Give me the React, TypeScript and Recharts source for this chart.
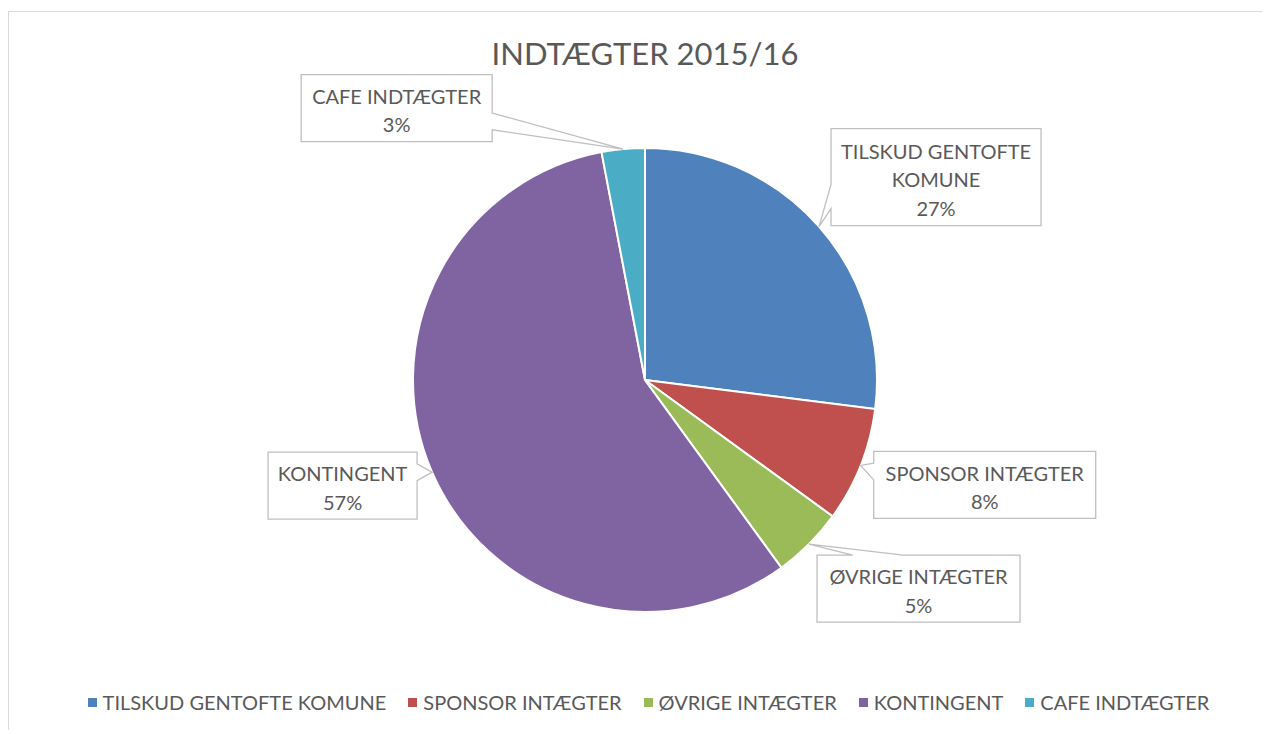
import { PieChart, Pie, Cell, Legend } from "recharts";

const categories = [
  "TILSKUD GENTOFTE KOMUNE",
  "SPONSOR INTÆGTER",
  "ØVRIGE INTÆGTER",
  "KONTINGENT",
  "CAFE INDTÆGTER",
];
const shares = [27, 8, 5, 57, 3];
const colors = ["#4F81BD", "#C0504D", "#9BBB59", "#8064A2", "#4BACC6"];
const title = "INDTÆGTER 2015/16";

// callout box placement relative to the slice's outer edge point
const callouts = [
  { dx: 117, dy: -49.5, w: 210, h: 97, wrap: 2 },
  { dx: 124, dy: 19.5, w: 222, h: 67, wrap: 0 },
  { dx: 109.5, dy: 44.5, w: 203, h: 67, wrap: 0 },
  { dx: -89.5, dy: 13.5, w: 149, h: 67, wrap: 0 },
  { dx: -226.5, dy: -41, w: 191, h: 67, wrap: 0 },
];

const data = categories.map((name, i) => ({ name, value: shares[i] }));

const FONT = "Lato, 'Open Sans', sans-serif";
const TEXT = "#595959";
const RADIAN = Math.PI / 180;

function calloutPath(x0: number, y0: number, w: number, h: number, ax: number, ay: number) {
  const x1 = x0 + w;
  const y1 = y0 + h;
  const cx = x0 + w / 2;
  const cy = y0 + h / 2;
  const rx = Math.abs(ax - cx) / (w / 2);
  const ry = Math.abs(ay - cy) / (h / 2);
  const clamp = (v: number, a: number, b: number) => Math.max(a, Math.min(b, v));
  if (rx > ry) {
    const c = clamp(ay, y0 + 0.3 * h, y1 - 0.3 * h);
    const hw = 0.125 * h;
    if (ax > cx) {
      return `M${x0},${y0} L${x1},${y0} L${x1},${c - hw} L${ax},${ay} L${x1},${c + hw} L${x1},${y1} L${x0},${y1} Z`;
    }
    return `M${x0},${y0} L${x1},${y0} L${x1},${y1} L${x0},${y1} L${x0},${c + hw} L${ax},${ay} L${x0},${c - hw} Z`;
  }
  const c = clamp(ax, x0 + 0.3 * w, x1 - 0.3 * w);
  const hw = 0.125 * w;
  if (ay < cy) {
    return `M${x0},${y0} L${c - hw},${y0} L${ax},${ay} L${c + hw},${y0} L${x1},${y0} L${x1},${y1} L${x0},${y1} Z`;
  }
  return `M${x0},${y0} L${x1},${y0} L${x1},${y1} L${c + hw},${y1} L${ax},${ay} L${c - hw},${y1} L${x0},${y1} Z`;
}

function renderLabel(props: any) {
  const { cx, cy, midAngle, outerRadius, percent, index, name } = props;
  const ax = cx + Math.cos(-midAngle * RADIAN) * outerRadius;
  const ay = cy + Math.sin(-midAngle * RADIAN) * outerRadius;
  const c = callouts[index];
  const bx = ax + c.dx;
  const by = ay + c.dy;
  const words = String(name).split(" ");
  const lines =
    c.wrap > 0
      ? [words.slice(0, c.wrap).join(" "), words.slice(c.wrap).join(" ")]
      : [String(name)];
  lines.push(`${Math.round(percent * 100)}%`);
  const lh = 28.5;
  const startY = by + 2 - ((lines.length - 1) * lh) / 2;
  return (
    <g key={`lbl-${index}`}>
      <path
        d={calloutPath(bx - c.w / 2, by - c.h / 2, c.w, c.h, ax, ay)}
        fill="#fff"
        stroke="#bfbfbf"
        strokeWidth={1.3}
      />
      {lines.map((t, i) => (
        <text
          key={i}
          x={bx}
          y={startY + i * lh}
          textAnchor="middle"
          dominantBaseline="central"
          fill={TEXT}
          fontSize={20}
          fontFamily={FONT}
        >
          {t}
        </text>
      ))}
    </g>
  );
}

function renderLegend() {
  return (
    <div
      style={{
        display: "flex",
        justifyContent: "center",
        alignItems: "center",
        fontFamily: FONT,
        fontSize: 20,
        color: TEXT,
        paddingLeft: 41,
      }}
    >
      {categories.map((name, i) => (
        <div key={name} style={{ display: "flex", alignItems: "center", marginRight: 22 }}>
          <span
            style={{ width: 9, height: 9, background: colors[i], marginRight: 6, display: "inline-block" }}
          />
          <span>{name}</span>
        </div>
      ))}
    </div>
  );
}

export default function App() {
  return (
    <div
      style={{
        position: "relative",
        top: 3,
        width: 1262,
        height: 722,
        border: "1px solid #d9d9d9",
        borderBottom: "none",
        boxSizing: "border-box",
        background: "#fff",
      }}
    >
      <div
        style={{
          position: "absolute",
          left: 336,
          width: 600,
          top: 22,
          textAlign: "center",
          fontFamily: FONT,
          fontSize: 31,
          color: TEXT,
        }}
      >
        {title}
      </div>
      <PieChart width={1260} height={720}>
        <Pie
          data={data}
          dataKey="value"
          nameKey="name"
          cx={631}
          cy={363}
          outerRadius={232}
          startAngle={90}
          endAngle={-270}
          stroke="#fff"
          strokeWidth={2}
          label={renderLabel}
          labelLine={false}
          isAnimationActive={false}
        >
          {data.map((d, i) => (
            <Cell key={d.name} fill={colors[i]} />
          ))}
        </Pie>
        <Legend content={renderLegend} wrapperStyle={{ top: 678, left: 0, width: 1260 }} />
      </PieChart>
    </div>
  );
}
